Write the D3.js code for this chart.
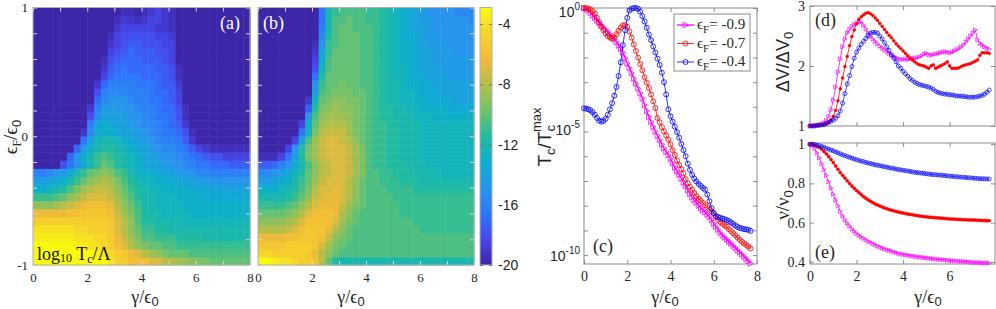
<!DOCTYPE html>
<html>
<head>
<meta charset="utf-8">
<script src="https://cdn.jsdelivr.net/npm/d3@7"></script>
<style>
  body { margin: 0; background: #fff; }
  svg { display: block; }
</style>
</head>
<body>
<script>
// ---------------- data ----------------
// heat maps: first row is eF = -1 (bottom), last row eF = +1 (top); 32 columns span gamma 0..8
const heatA = [
  [-3,-3,-3,-3,-3,-3,-3,-3,-3,-3,-3,-4,-5,-5,-6,-6,-6,-7,-7,-8,-8,-8.5,-9,-9,-9.5,-9.5,-10,-10,-10,-10,-10,-10],
  [-3,-3,-3,-3,-3,-3,-3,-3,-3,-3.5,-4,-4.5,-5,-5.5,-6.5,-7,-8,-8.5,-9,-9.5,-10,-10,-10,-10.5,-10.5,-10.5,-10.5,-10.5,-10.5,-10.5,-10.5,-10.5],
  [-3,-3,-3,-3,-3,-3,-3.5,-3.5,-4,-4,-4.5,-5,-6,-7,-8,-9,-9.5,-10,-10,-10.5,-10.5,-11,-11,-11,-11,-11,-11,-11,-11,-11,-11,-11],
  [-3.5,-3.5,-3.5,-3.5,-3.5,-3.5,-4,-4,-4,-4.5,-4.5,-5,-6.5,-7.5,-8.5,-9.5,-10.5,-10.5,-11,-11,-11,-11.5,-11.5,-11.5,-11.5,-12,-12,-12,-12,-12,-12,-12],
  [-4,-4,-4,-4,-4,-4,-4.5,-4.5,-5,-5,-5,-5.5,-7,-8,-9,-10,-11,-11,-11.5,-11.5,-12,-12,-12,-12,-12,-12,-12,-12,-12,-12,-12,-12],
  [-5,-5,-5,-5,-5,-5,-5,-5,-5,-5,-5,-5.5,-7,-8,-9,-10.5,-11.5,-11.5,-12,-12,-12,-12,-12.5,-12.5,-12.5,-12.5,-12.5,-12.5,-12.5,-12.5,-12.5,-12.5],
  [-6.5,-6.5,-6.5,-6.5,-6.5,-6,-6,-5.5,-5.5,-5.5,-5.5,-6,-7.5,-8.5,-9.5,-10.5,-11.5,-12,-12,-12.5,-12.5,-12.5,-12.5,-13,-13,-13,-13,-13,-13,-13,-13,-13],
  [-9,-9,-9,-8.5,-8,-7.5,-7,-6.5,-6,-6,-6,-6.5,-8,-9,-10,-11,-12,-12,-12.5,-12.5,-12.5,-12.5,-13,-13,-13,-13,-13,-13,-13,-13,-13,-13],
  [-11,-11,-11,-10.5,-10,-9,-8.5,-7.5,-7,-7,-7,-7.5,-8.5,-9.5,-10.5,-11.5,-12,-12,-12.5,-12.5,-12.5,-13,-13,-13,-13,-13.5,-13.5,-13.5,-13.5,-13.5,-13.5,-13.5],
  [-13,-13,-12.5,-12,-11.5,-10.5,-9.5,-8.5,-8,-7.5,-7.5,-8,-9,-10,-11,-11.5,-12,-12.5,-12.5,-13,-13,-13,-13,-13.5,-13.5,-13.5,-14,-14,-14,-14,-14,-14],
  [-14.5,-14.5,-14,-13.5,-13,-12,-11,-10,-9,-8.5,-8,-8.5,-9.5,-10.5,-11.5,-12,-12.5,-12.5,-13,-13,-13.5,-13.5,-14,-14,-14.5,-14.5,-15,-15,-15,-15,-15,-15],
  [-16,-16,-15.5,-15,-14.5,-13.5,-12,-11,-10,-9.5,-9,-9.5,-10.5,-11,-12,-12.5,-13,-13,-13.5,-14,-14,-14.5,-15,-15,-15.5,-15.5,-16,-16,-16,-16,-16,-16],
  [-20,-20,-20,-20,-18,-16.5,-15,-13.5,-12,-11,-10,-10.5,-11.5,-12,-12.5,-13,-13.5,-14,-14,-14.5,-15,-15,-15.5,-16,-16.5,-16.5,-17,-17,-17,-17.5,-17.5,-17.5],
  [-20,-20,-20,-20,-20,-17,-15,-13,-12,-11,-10.5,-11,-11.5,-12,-12.5,-13,-14,-14,-14.5,-15,-15,-15.5,-16,-16.5,-17,-17.5,-18,-18,-18.5,-18.5,-18.5,-18.5],
  [-20,-20,-20,-20,-20,-20,-17,-14.5,-13,-12,-11.5,-11.5,-12,-12.5,-13,-13.5,-14,-14.5,-15,-15.5,-15.5,-16,-16.5,-17.5,-18.5,-19,-19.5,-19.5,-19.5,-19.5,-19.5,-19.5],
  [-20,-20,-20,-20,-20,-20,-20,-16.5,-14,-12.5,-12,-12,-12.5,-13,-13.5,-14,-14.5,-15,-15.5,-16,-16,-16.5,-17.5,-19,-20,-20,-20,-20,-20,-20,-20,-20],
  [-20,-20,-20,-20,-20,-20,-20,-19,-15.5,-13.5,-13,-13,-13.5,-14,-14,-14.5,-15,-15.5,-16,-16.5,-16.5,-17,-18,-19.5,-20,-20,-20,-20,-20,-20,-20,-20],
  [-20,-20,-20,-20,-20,-20,-20,-20,-16,-14,-13,-13.5,-14,-14,-14.5,-15,-15.5,-15.5,-16,-16.5,-17,-17.5,-19,-20,-20,-20,-20,-20,-20,-20,-20,-20],
  [-20,-20,-20,-20,-20,-20,-20,-20,-18,-15.5,-14,-14,-14,-14.5,-15,-15,-15.5,-16,-16.5,-16.5,-17,-18,-19.5,-20,-20,-20,-20,-20,-20,-20,-20,-20],
  [-20,-20,-20,-20,-20,-20,-20,-20,-19,-16,-14.5,-14.5,-14.5,-15,-15,-15.5,-16,-16,-16.5,-17,-17,-18,-19.5,-20,-20,-20,-20,-20,-20,-20,-20,-20],
  [-20,-20,-20,-20,-20,-20,-20,-20,-20,-17,-15.5,-15,-15,-15,-15.5,-16,-16,-16.5,-16.5,-17,-17.5,-18.5,-20,-20,-20,-20,-20,-20,-20,-20,-20,-20],
  [-20,-20,-20,-20,-20,-20,-20,-20,-20,-18,-16,-15.5,-15.5,-15.5,-16,-16,-16,-16.5,-17,-17,-17.5,-18.5,-20,-20,-20,-20,-20,-20,-20,-20,-20,-20],
  [-20,-20,-20,-20,-20,-20,-20,-20,-20,-19,-17,-16,-16,-16,-16,-16.5,-16.5,-16.5,-17,-17.5,-17.5,-19,-20,-20,-20,-20,-20,-20,-20,-20,-20,-20],
  [-20,-20,-20,-20,-20,-20,-20,-20,-20,-20,-18.5,-17,-16.5,-16.5,-16.5,-16.5,-17,-17,-17,-17.5,-18,-19.5,-20,-20,-20,-20,-20,-20,-20,-20,-20,-20],
  [-20,-20,-20,-20,-20,-20,-20,-20,-20,-20,-19,-17.5,-17,-16.5,-17,-17,-17,-17,-17.5,-17.5,-18,-19.5,-20,-20,-20,-20,-20,-20,-20,-20,-20,-20],
  [-20,-20,-20,-20,-20,-20,-20,-20,-20,-20,-19.5,-18,-17.5,-17,-17,-17,-17.5,-17.5,-17.5,-18,-18.5,-20,-20,-20,-20,-20,-20,-20,-20,-20,-20,-20],
  [-20,-20,-20,-20,-20,-20,-20,-20,-20,-20,-20,-18.5,-18,-17.5,-17,-17.5,-17.5,-17.5,-18,-18,-18.5,-20,-20,-20,-20,-20,-20,-20,-20,-20,-20,-20],
  [-20,-20,-20,-20,-20,-20,-20,-20,-20,-20,-20,-19,-18.5,-18,-17.5,-17.5,-18,-18,-18,-18.5,-18.5,-20,-20,-20,-20,-20,-20,-20,-20,-20,-20,-20],
  [-20,-20,-20,-20,-20,-20,-20,-20,-20,-20,-20,-19.5,-18.5,-18,-18,-18,-18,-18,-18.5,-18.5,-19,-20,-20,-20,-20,-20,-20,-20,-20,-20,-20,-20],
  [-20,-20,-20,-20,-20,-20,-20,-20,-20,-20,-20,-20,-19,-18.5,-18.5,-18.5,-18.5,-18.5,-19,-19,-19.5,-20,-20,-20,-20,-20,-20,-20,-20,-20,-20,-20],
  [-20,-20,-20,-20,-20,-20,-20,-20,-20,-20,-20,-20,-19.5,-19,-19,-19.5,-19,-18.5,-18.5,-19,-19.5,-20,-20,-20,-20,-20,-20,-20,-20,-20,-20,-20],
  [-20,-20,-20,-20,-20,-20,-20,-20,-20,-20,-20,-20,-20,-19.5,-19.5,-20,-19.5,-19,-18.5,-19,-19.5,-20,-20,-20,-20,-20,-20,-20,-20,-20,-20,-20]
];

const heatB = [
  [-3,-3,-3.5,-4,-4,-4.5,-5,-5,-6,-8,-10,-11.5,-12,-12,-12,-12,-12,-12,-12,-12,-12,-12,-12,-12,-12,-12,-12,-12,-12,-12,-12,-12],
  [-4.5,-4.5,-5,-5,-5,-5,-5,-5.5,-6.5,-8,-9,-10,-10.5,-10.5,-10.5,-10.5,-10.5,-10.5,-10.5,-10.5,-10.5,-10.5,-10.5,-10.5,-10.5,-10.5,-10.5,-10.5,-10.5,-10.5,-10.5,-10.5],
  [-5.5,-5.5,-5.5,-5.5,-5,-5,-5,-5,-5.5,-7,-8.5,-9.5,-10,-10.5,-10.5,-10.5,-10.5,-10.5,-10.5,-10.5,-10.5,-10.5,-10.5,-10.5,-10.5,-10.5,-10.5,-10.5,-10.5,-10.5,-10.5,-10.5],
  [-6.5,-6.5,-6.5,-6.5,-6,-6,-5.5,-5.5,-5.5,-6,-7.5,-9,-9.5,-10,-10.5,-10.5,-10.5,-10.5,-10.5,-10.5,-10.5,-10.5,-10.5,-10.5,-10.5,-10.5,-10.5,-10.5,-10.5,-10.5,-10.5,-10.5],
  [-8,-8,-8,-8,-7.5,-7,-6,-5.5,-5.5,-5.5,-6.5,-8,-9,-10,-10.5,-10.5,-10.5,-10.5,-10.5,-10.5,-10.5,-10.5,-10.5,-10.5,-11,-11,-11,-11,-11,-11,-11,-11],
  [-9,-9,-9,-9,-8.5,-8,-7,-6,-6,-6,-6,-7,-8.5,-9.5,-10,-10.5,-10.5,-10.5,-10.5,-10.5,-10.5,-10.5,-10.5,-11,-11,-11,-11,-11,-11,-11,-11,-11],
  [-10,-10,-10,-10,-9.5,-9,-8,-7,-6,-6,-6,-6.5,-8,-9,-10,-10.5,-10.5,-10.5,-10.5,-10.5,-10.5,-11,-11,-11,-11,-11,-11,-11,-11,-11,-11,-11],
  [-11,-11,-11,-11,-10.5,-10,-9,-8,-7,-6.5,-6.5,-6.5,-7.5,-8.5,-9.5,-10,-10.5,-10.5,-10.5,-10.5,-10.5,-11,-11,-11,-11,-11,-11,-11,-11,-11,-11,-11],
  [-12,-12,-12,-12,-11.5,-11,-10,-9,-7.5,-7,-6.5,-6.5,-7,-8,-9,-10,-10.5,-10.5,-10.5,-10.5,-11,-11,-11,-11,-11,-11,-11,-11,-11,-11,-11,-11],
  [-13,-13,-13,-12.5,-12,-11.5,-10.5,-9.5,-8,-7,-7,-6.5,-7,-8,-9,-10,-10.5,-10.5,-10.5,-11,-11,-11,-11,-11.5,-11.5,-11.5,-11.5,-11.5,-11.5,-11.5,-11.5,-11.5],
  [-14.5,-14.5,-14,-13.5,-13,-12,-11,-10,-8.5,-7.5,-7,-7,-7,-8,-9,-10,-10.5,-10.5,-11,-11,-11,-11.5,-11.5,-11.5,-12,-12,-12,-12,-12,-12,-12,-12],
  [-15.5,-15.5,-15,-14.5,-13.5,-12.5,-11.5,-10,-9,-8,-7.5,-7,-7,-7.5,-8.5,-9.5,-10.5,-10.5,-11,-11,-11.5,-11.5,-11.5,-12,-12,-12,-12,-12.5,-12.5,-12.5,-12.5,-12.5],
  [-17.5,-17.5,-17,-16,-15,-13.5,-12,-10.5,-9,-8,-7.5,-7,-7,-7.5,-8.5,-9.5,-10.5,-11,-11,-11.5,-11.5,-11.5,-12,-12,-12,-12.5,-12.5,-12.5,-12.5,-12.5,-12.5,-12.5],
  [-19.5,-19.5,-19.5,-18.5,-16.5,-14,-11.5,-9.5,-8.5,-7.5,-7,-7,-7,-7.5,-8.5,-9.5,-10.5,-11,-11,-11.5,-11.5,-12,-12,-12,-12.5,-12.5,-12.5,-12.5,-12.5,-12.5,-12.5,-12.5],
  [-20,-20,-20,-20,-18.5,-15,-11.5,-9.5,-8.5,-7.5,-7,-7,-7,-7.5,-8.5,-9.5,-10.5,-11,-11,-11.5,-11.5,-12,-12,-12,-12.5,-12.5,-12.5,-12.5,-12.5,-12.5,-12.5,-12.5],
  [-20,-20,-20,-20,-20,-18.5,-14,-10.5,-8.5,-7.5,-7,-7,-7.5,-8,-9,-10,-10.5,-11,-11,-11.5,-11.5,-12,-12,-12,-12.5,-12.5,-12.5,-12.5,-12.5,-12.5,-12.5,-12.5],
  [-20,-20,-20,-20,-20,-20,-16.5,-12.5,-9.5,-8,-7.5,-7.5,-7.5,-8.5,-9.5,-10,-10.5,-11,-11,-11.5,-11.5,-12,-12,-12,-12.5,-12.5,-12.5,-12.5,-12.5,-12.5,-12.5,-12.5],
  [-20,-20,-20,-20,-20,-20,-18.5,-13,-10,-8.5,-8,-8,-8,-8.5,-9.5,-10,-10.5,-11,-11,-11.5,-11.5,-12,-12,-12,-12.5,-12.5,-12.5,-12.5,-12.5,-12.5,-12.5,-12.5],
  [-20,-20,-20,-20,-20,-20,-20,-15,-10.5,-9,-8.5,-8.5,-8.5,-9,-9.5,-10,-10.5,-11,-11.5,-11.5,-12,-12,-12,-12.5,-12.5,-12.5,-13,-13,-13,-13,-13,-13],
  [-20,-20,-20,-20,-20,-20,-20,-17.5,-11.5,-9.5,-9,-8.5,-9,-9,-9.5,-10,-10.5,-11,-11.5,-11.5,-12,-12,-12.5,-12.5,-13,-13,-13,-13,-13.5,-13.5,-13.5,-13.5],
  [-20,-20,-20,-20,-20,-20,-20,-19,-12.5,-10,-9.5,-9,-9,-9.5,-9.5,-10,-10.5,-11,-11.5,-12,-12,-12.5,-12.5,-13,-13,-13.5,-13.5,-13.5,-13.5,-14,-14,-14],
  [-20,-20,-20,-20,-20,-20,-20,-20,-14,-10.5,-10,-9.5,-9.5,-9.5,-10,-10,-10.5,-11,-11.5,-12,-12,-12.5,-12.5,-13,-13.5,-13.5,-13.5,-14,-14,-14,-14,-14],
  [-20,-20,-20,-20,-20,-20,-20,-20,-15,-11,-10,-10,-9.5,-10,-10,-10.5,-10.5,-11,-11.5,-12,-12,-12.5,-13,-13,-13.5,-13.5,-14,-14,-14,-14,-14,-14],
  [-20,-20,-20,-20,-20,-20,-20,-20,-16.5,-11.5,-10,-10,-10,-10,-10,-10.5,-10.5,-11,-11.5,-12,-12.5,-12.5,-13,-13.5,-13.5,-14,-14,-14,-14.5,-14.5,-14.5,-14.5],
  [-20,-20,-20,-20,-20,-20,-20,-20,-18,-12.5,-10.5,-10,-10,-10,-10,-10.5,-10.5,-11,-11.5,-12,-12.5,-12.5,-13,-13.5,-14,-14,-14,-14.5,-14.5,-14.5,-14.5,-14.5],
  [-20,-20,-20,-20,-20,-20,-20,-20,-18.5,-13,-10.5,-10,-10,-10,-10,-10.5,-10.5,-11,-11.5,-12,-12.5,-13,-13,-13.5,-14,-14,-14.5,-14.5,-14.5,-14.5,-14.5,-14.5],
  [-20,-20,-20,-20,-20,-20,-20,-20,-19,-14,-11,-10,-10,-10,-10,-10.5,-10.5,-11,-11.5,-12,-12.5,-13,-13,-13.5,-14,-14,-14.5,-14.5,-14.5,-15,-15,-15],
  [-20,-20,-20,-20,-20,-20,-20,-20,-19.5,-15,-11,-10.5,-10,-10,-10,-10.5,-10.5,-11,-11.5,-12,-12.5,-13,-13,-13.5,-14,-14.5,-14.5,-14.5,-15,-15,-15,-15],
  [-20,-20,-20,-20,-20,-20,-20,-20,-20,-15.5,-11.5,-10.5,-10,-10,-10,-10.5,-10.5,-11,-11.5,-12,-12.5,-13,-13.5,-13.5,-14,-14.5,-14.5,-15,-15,-15,-15,-15],
  [-20,-20,-20,-20,-20,-20,-20,-20,-20,-16,-12,-10.5,-10,-10,-10.5,-10.5,-10.5,-11,-11.5,-12,-12.5,-13,-13.5,-14,-14,-14.5,-15,-15,-15,-15,-15,-15],
  [-20,-20,-20,-20,-20,-20,-20,-20,-20,-16.5,-12,-10.5,-10.5,-10,-10.5,-10.5,-11,-11,-11.5,-12,-12.5,-13,-13.5,-14,-14.5,-14.5,-15,-15,-15,-15,-15,-15.5],
  [-20,-20,-20,-20,-20,-20,-20,-20,-20,-16.5,-12,-11,-10.5,-10.5,-10.5,-10.5,-11,-11,-11.5,-12,-12.5,-13,-13.5,-14,-14.5,-15,-15,-15,-15,-15.5,-15.5,-15.5]
];

const cbTicks = [-4, -8, -12, -16, -20];
const legendLabels = ["-0.9", "-0.7", "-0.4"];

// curves, one value per gamma step of 0.1 from 0 to 7.7
// (c) log10 of Tc/Tc^max
const tcMag = [0,-0.03,-0.1,-0.2,-0.3,-0.4,-0.5,-0.6,-0.69,-0.78,
  -0.87,-0.96,-1.05,-1.16,-1.27,-1.38,-1.52,-1.66,-1.8,-2.02,
  -2.24,-2.42,-2.63,-2.85,-3.05,-3.25,-3.45,-3.66,-3.92,-4.16,
  -4.4,-4.6,-4.8,-5.0,-5.17,-5.34,-5.52,-5.68,-5.82,-5.95,
  -6.1,-6.28,-6.46,-6.62,-6.75,-6.9,-7.06,-7.2,-7.37,-7.52,
  -7.66,-7.78,-7.88,-8.0,-8.1,-8.19,-8.27,-8.36,-8.45,-8.58,
  -8.72,-8.85,-8.97,-9.09,-9.2,-9.28,-9.36,-9.45,-9.53,-9.62,
  -9.71,-9.8,-9.88,-9.97,-10.06,-10.15,-10.24,-10.34];
const tcRed = [0,0,-0.02,-0.06,-0.13,-0.23,-0.4,-0.58,-0.75,-0.9,
  -1.03,-1.14,-1.2,-1.23,-1.18,-1.06,-0.92,-0.8,-0.7,-0.69,
  -0.76,-0.95,-1.2,-1.47,-1.74,-2.01,-2.27,-2.52,-2.8,-3.02,
  -3.24,-3.5,-3.78,-4.05,-4.45,-4.63,-4.82,-4.99,-5.16,-5.33,
  -5.52,-5.75,-5.95,-6.17,-6.35,-6.52,-6.69,-6.92,-7.1,-7.23,
  -7.36,-7.49,-7.62,-7.72,-7.8,-7.89,-7.98,-8.06,-8.15,-8.23,
  -8.32,-8.46,-8.57,-8.66,-8.74,-8.8,-8.85,-8.95,-9.03,-9.12,
  -9.2,-9.29,-9.38,-9.46,-9.53,-9.59,-9.65,-9.73];
const tcBlue = [-4.06,-4.07,-4.1,-4.14,-4.22,-4.32,-4.45,-4.56,-4.6,-4.57,
  -4.48,-4.32,-4.1,-3.85,-3.55,-3.2,-2.75,-2.2,-1.5,-0.9,
  -0.4,-0.1,-0.03,0,0,-0.03,-0.15,-0.33,-0.55,-0.8,
  -1.07,-1.3,-1.55,-1.8,-2.05,-2.3,-2.62,-3.0,-3.5,-4.1,
  -4.38,-4.6,-4.8,-5.02,-5.25,-5.5,-5.75,-6.0,-6.3,-6.55,
  -6.75,-6.9,-7.02,-7.12,-7.2,-7.28,-7.35,-7.55,-7.82,-8.1,
  -8.3,-8.42,-8.46,-8.49,-8.52,-8.55,-8.58,-8.62,-8.68,-8.74,
  -8.8,-8.86,-8.9,-8.92,-8.95,-8.96,-8.98,-9.02];

// (d) dV/dV0
const dvMag = [1.0,1.0,1.01,1.01,1.02,1.03,1.05,1.09,1.16,1.27,
  1.43,1.65,1.9,2.12,2.32,2.45,2.55,2.61,2.66,2.69,
  2.71,2.73,2.73,2.68,2.62,2.55,2.49,2.45,2.41,2.37,
  2.33,2.3,2.27,2.24,2.21,2.18,2.16,2.14,2.12,2.11,
  2.11,2.11,2.11,2.12,2.13,2.13,2.14,2.15,2.17,2.2,
  2.21,2.19,2.18,2.19,2.2,2.21,2.22,2.23,2.24,2.23,
  2.22,2.23,2.25,2.27,2.29,2.32,2.35,2.4,2.45,2.5,
  2.55,2.6,2.44,2.38,2.35,2.32,2.3,2.28];
const dvRed = [1.0,1.0,1.0,1.01,1.01,1.02,1.03,1.04,1.06,1.1,
  1.16,1.26,1.42,1.62,1.8,1.99,2.16,2.34,2.49,2.6,
  2.7,2.78,2.82,2.85,2.88,2.89,2.87,2.84,2.8,2.76,
  2.71,2.66,2.61,2.56,2.51,2.47,2.42,2.37,2.33,2.29,
  2.25,2.21,2.17,2.13,2.1,2.07,2.04,2.02,2.01,2.0,
  1.98,1.96,2.0,2.02,1.96,1.98,2.0,2.02,2.04,2.07,
  2.0,1.96,1.96,1.96,1.97,1.99,2.01,2.02,2.03,2.04,
  2.06,2.08,2.1,2.18,2.22,2.22,2.22,2.21];
const dvBlue = [1.0,1.0,1.0,1.01,1.01,1.02,1.02,1.04,1.06,1.08,
  1.1,1.13,1.17,1.25,1.38,1.54,1.7,1.84,1.99,2.13,
  2.23,2.3,2.36,2.41,2.46,2.51,2.55,2.56,2.56,2.55,
  2.5,2.45,2.39,2.32,2.26,2.19,2.13,2.07,2.0,1.96,
  1.91,1.87,1.83,1.79,1.76,1.73,1.71,1.69,1.68,1.67,
  1.66,1.65,1.63,1.61,1.58,1.56,1.55,1.54,1.53,1.53,
  1.52,1.52,1.51,1.5,1.5,1.5,1.49,1.49,1.48,1.48,
  1.48,1.48,1.49,1.5,1.51,1.53,1.56,1.6];

// (e) nu/nu0
const nuMag = [1.0,0.993,0.978,0.955,0.93,0.9,0.87,0.84,0.808,0.776,
  0.745,0.715,0.686,0.658,0.635,0.615,0.598,0.582,0.568,0.556,
  0.545,0.536,0.527,0.52,0.512,0.505,0.499,0.493,0.487,0.481,
  0.476,0.471,0.466,0.462,0.458,0.454,0.45,0.447,0.443,0.44,
  0.438,0.436,0.434,0.432,0.43,0.428,0.426,0.424,0.423,0.421,
  0.42,0.418,0.417,0.415,0.414,0.413,0.412,0.411,0.41,0.408,
  0.407,0.406,0.405,0.404,0.403,0.403,0.402,0.401,0.4,0.399,
  0.398,0.397,0.397,0.396,0.395,0.395,0.394,0.394];
const nuRed = [1.0,0.999,0.995,0.99,0.984,0.975,0.963,0.951,0.937,0.922,
  0.906,0.889,0.872,0.856,0.841,0.827,0.813,0.799,0.787,0.775,
  0.764,0.753,0.743,0.733,0.724,0.716,0.709,0.702,0.695,0.69,
  0.685,0.68,0.675,0.671,0.667,0.663,0.66,0.657,0.654,0.651,
  0.649,0.646,0.644,0.642,0.64,0.638,0.636,0.634,0.633,0.631,
  0.63,0.628,0.627,0.626,0.625,0.624,0.623,0.622,0.621,0.62,
  0.619,0.618,0.618,0.617,0.616,0.616,0.615,0.615,0.614,0.614,
  0.613,0.613,0.612,0.612,0.611,0.611,0.61,0.61];
const nuBlue = [1.0,1.0,0.998,0.995,0.992,0.988,0.984,0.979,0.975,0.97,
  0.966,0.961,0.956,0.951,0.946,0.942,0.937,0.933,0.929,0.925,
  0.921,0.917,0.914,0.911,0.907,0.904,0.901,0.898,0.895,0.893,
  0.89,0.888,0.885,0.883,0.88,0.878,0.876,0.873,0.871,0.869,
  0.867,0.865,0.863,0.861,0.859,0.857,0.855,0.854,0.852,0.851,
  0.849,0.848,0.846,0.845,0.844,0.843,0.842,0.841,0.84,0.839,
  0.837,0.836,0.835,0.834,0.833,0.832,0.831,0.83,0.829,0.828,
  0.827,0.826,0.825,0.824,0.824,0.823,0.823,0.822];

// ---------------- drawing ----------------
const serif = "'Liberation Serif', 'DejaVu Serif', serif";
const sans = "'Liberation Sans', Arial, sans-serif";
const textColor = "#262626";
const frameColor = "#8c8c8c";
const heatFrame = "#b0b0b0";
const magenta = "#ff00ff", red = "#ff0000", blue = "#0000ff";

const gamma = tcMag.map((_, i) => i / 10);

// parula colormap
const parula = ["rgb(62,38,168)", "rgb(71,71,235)", "rgb(46,118,251)", "rgb(39,150,235)",
  "rgb(13,174,206)", "rgb(33,187,160)", "rgb(113,195,108)", "rgb(179,191,74)",
  "rgb(242,186,57)", "rgb(246,212,43)", "rgb(249,251,14)"];
const cMin = -20, cMax = -2.9;
const color = d3.scaleLinear()
  .domain(parula.map((_, i) => cMin + (cMax - cMin) * i / (parula.length - 1)))
  .range(parula)
  .clamp(true);

const svg = d3.select("body").append("svg")
  .attr("width", 996).attr("height", 309);

// scales
const xA = d3.scaleLinear([0, 8], [33, 250]);
const xB = d3.scaleLinear([0, 8], [258, 474]);
const yEps = d3.scaleLinear([-1, 1], [265, 7.5]);
const yCb = d3.scaleLinear([cMin, cMax], [265, 7.5]);
const xC = d3.scaleLinear([0, 8], [584, 757]);
const yC = d3.scaleLog([Math.pow(10, -10.36), 1], [264, 8]);
const xD = d3.scaleLinear([0, 7.95], [810, 995]);
const yD = d3.scaleLinear([1, 3], [126, 6]);
const yNu = d3.scaleLinear([0.389, 1.006], [264, 143]);

function drawHeat(grid, x) {
  const nr = grid.length;
  const cells = [];
  grid.forEach((row, i) => row.forEach((v, j) => cells.push({ i, j, v, nc: row.length })));
  svg.append("g").selectAll("rect").data(cells).join("rect")
    .attr("x", d => x(8 * d.j / d.nc))
    .attr("y", d => yEps(-1 + 2 * (d.i + 1) / nr))
    .attr("width", d => x(8 * (d.j + 1) / d.nc) - x(8 * d.j / d.nc) + 0.5)
    .attr("height", d => yEps(-1 + 2 * d.i / nr) - yEps(-1 + 2 * (d.i + 1) / nr) + 0.5)
    .attr("fill", d => color(d.v));
}

function addAxes(x, y, o) {
  const [xl, xr] = x.range(), [yb, yt] = y.range();
  const tc = o.tickColor || frameColor;
  const none = () => "";
  const g = svg.append("g");
  const parts = [
    [d3.axisBottom(x).tickValues(o.xTicks).tickFormat(o.xFmt || none).tickPadding(o.xPad || 8), `translate(0,${yb})`],
    [d3.axisTop(x).tickValues(o.xTicks).tickFormat(none), `translate(0,${yt})`],
    [d3.axisLeft(y).tickValues(o.yTicks).tickFormat(o.yFmt || none).tickPadding(o.yPad || 5), `translate(${xl},0)`],
    [d3.axisRight(y).tickValues(o.yTicks).tickFormat(none), `translate(${xr},0)`]
  ];
  parts.forEach(([ax, tr]) => {
    const a = g.append("g").attr("transform", tr).call(ax.tickSize(-4));
    a.select(".domain").remove();
    a.selectAll(".tick line").attr("stroke", tc);
    a.selectAll(".tick text").attr("fill", textColor)
      .attr("font-family", o.font || serif).attr("font-size", o.fontSize || 14);
  });
  g.append("rect").attr("x", xl).attr("y", yt)
    .attr("width", xr - xl).attr("height", yb - yt)
    .attr("fill", "none").attr("stroke", o.frame || frameColor);
}

function rich(x, y, parts, o) {
  const t = svg.append("text").attr("x", x).attr("y", y)
    .attr("font-family", o.font || serif).attr("font-size", o.size || 17)
    .attr("fill", o.fill || textColor).attr("text-anchor", o.anchor || "start");
  if (o.rotate) t.attr("transform", `rotate(${o.rotate},${x},${y})`);
  parts.forEach(p => {
    const s = t.append("tspan").text(p.t);
    if (p.size) s.attr("font-size", p.size);
    if (p.dy) s.attr("dy", p.dy);
    if (p.dx) s.attr("dx", p.dx);
    if (p.font) s.attr("font-family", p.font);
  });
  return t;
}

const triPath = r => `M${-r * 0.85},${-r}L${r},0L${-r * 0.85},${r}Z`;

function drawSeries(x, y, vals, st) {
  const pts = vals.map((v, i) => [x(gamma[i]), y(st.tf ? st.tf(v) : v)]);
  svg.append("path").attr("d", d3.line()(pts))
    .attr("fill", "none").attr("stroke", st.color).attr("stroke-width", st.lw);
  const g = svg.append("g");
  if (st.shape === "tri") {
    g.selectAll("path").data(pts).join("path")
      .attr("d", triPath(st.r))
      .attr("transform", d => `translate(${d[0]},${d[1]})`)
      .attr("fill", "none").attr("stroke", st.color).attr("stroke-width", st.mw);
  } else {
    g.selectAll("circle").data(pts).join("circle")
      .attr("cx", d => d[0]).attr("cy", d => d[1]).attr("r", st.r)
      .attr("fill", st.fill ? st.color : "none")
      .attr("stroke", st.color).attr("stroke-width", st.mw);
  }
}

// ---- (a) and (b) heat maps ----
drawHeat(heatA, xA);
drawHeat(heatB, xB);

const epsTicks = d3.range(-5, 6).map(i => i / 5);
addAxes(xA, yEps, {
  xTicks: d3.range(0, 9), yTicks: epsTicks, xPad: 8, yPad: 5, fontSize: 13,
  xFmt: d => d % 2 === 0 ? String(d) : "",
  yFmt: d => (d === -1 || d === 0 || d === 1) ? String(d) : "",
  tickColor: "#d8d8d8", frame: heatFrame
});
addAxes(xB, yEps, {
  xTicks: d3.range(0, 9), yTicks: epsTicks, xPad: 8, fontSize: 13,
  xFmt: d => d % 2 === 0 ? String(d) : "",
  tickColor: "#d8d8d8", frame: heatFrame
});

// colorbar
const grad = svg.append("defs").append("linearGradient").attr("id", "parulaGrad")
  .attr("x1", 0).attr("y1", 1).attr("x2", 0).attr("y2", 0);
parula.forEach((c, i) => grad.append("stop").attr("offset", i / (parula.length - 1)).attr("stop-color", c));
svg.append("rect").attr("x", 480).attr("y", yCb.range()[1])
  .attr("width", 12).attr("height", yCb.range()[0] - yCb.range()[1])
  .attr("fill", "url(#parulaGrad)").attr("stroke", heatFrame);
const cbR = svg.append("g").attr("transform", "translate(492,0)")
  .call(d3.axisRight(yCb).tickValues(cbTicks).tickSize(-3).tickPadding(6).tickFormat(d => String(d)));
const cbL = svg.append("g").attr("transform", "translate(480,0)")
  .call(d3.axisLeft(yCb).tickValues(cbTicks).tickSize(-3).tickFormat(() => ""));
[cbR, cbL].forEach(a => {
  a.select(".domain").remove();
  a.selectAll(".tick line").attr("stroke", "#777");
  a.selectAll(".tick text").attr("fill", textColor).attr("font-family", sans).attr("font-size", 14);
});

// labels for (a), (b) and the shared gamma labels
rich(17, 137, [{ t: "ϵ" }, { t: "F", size: 12, dy: 4 }, { t: "/ϵ", dy: -4 }, { t: "0", size: 13, dy: 4, font: sans }],
  { size: 19, anchor: "middle", rotate: -90 });
[145, 351, 665, 928].forEach(cx => {
  rich(cx, 303, [{ t: "γ/ϵ" }, { t: "0", size: 13, dy: 3, font: sans }], { size: 18, anchor: "middle" });
});
rich(220, 29, [{ t: "(a)" }], { size: 18, fill: "#ffffff" });
rich(263, 29, [{ t: "(b)" }], { size: 18, fill: "#ffffff" });
rich(37, 260, [{ t: "log" }, { t: "10", size: 12, dy: 2 }, { t: " T", dy: -2 }, { t: "c", size: 12, dy: 3 }, { t: "/Λ", dy: -3 }],
  { size: 18, fill: "#111" });

// ---- (c) Tc / Tc^max, log scale ----
addAxes(xC, yC, {
  xTicks: [0, 2, 4, 6, 8], yTicks: d3.range(-10, 1).map(e => Math.pow(10, e)),
  xPad: 7, xFmt: d => String(d)
});
[[0, 17], [-5, 135], [-10, 261]].forEach(([e, by]) => {
  rich(580, by, [{ t: "10" }, { t: String(e), size: 10, dy: -7 }],
    { font: sans, size: 14, anchor: "end" });
});
rich(551, 137, [{ t: "T" }, { t: "c", size: 13, dy: 4 }, { t: "/T", dy: -4 }, { t: "c", size: 13, dy: 4 },
  { t: "max", size: 13, dx: -7, dy: -14 }], { font: sans, size: 19, anchor: "middle", rotate: -90 });

const tcStyles = [
  { vals: tcMag, color: magenta, shape: "tri", r: 2.8, lw: 1.3, mw: 0.8 },
  { vals: tcRed, color: red, shape: "circle", r: 2.5, lw: 0.8, mw: 0.8 },
  { vals: tcBlue, color: blue, shape: "circle", r: 2.5, lw: 0.8, mw: 0.8 }
];
tcStyles.forEach(s => drawSeries(xC, yC, s.vals, Object.assign({ tf: v => Math.pow(10, v) }, s)));
rich(593, 252, [{ t: "(c)" }], { size: 18 });

// legend
svg.append("rect").attr("x", 674).attr("y", 14).attr("width", 76).attr("height", 57)
  .attr("fill", "#fff").attr("stroke", "#6e6e6e").attr("stroke-width", 0.8);
tcStyles.forEach((s, k) => {
  const ly = 25 + k * 18.5;
  svg.append("line").attr("x1", 677).attr("x2", 694).attr("y1", ly).attr("y2", ly)
    .attr("stroke", s.color).attr("stroke-width", s.lw);
  if (s.shape === "tri") {
    svg.append("path").attr("d", triPath(s.r)).attr("transform", `translate(685.5,${ly})`)
      .attr("fill", "none").attr("stroke", s.color).attr("stroke-width", s.mw);
  } else {
    svg.append("circle").attr("cx", 685.5).attr("cy", ly).attr("r", s.r)
      .attr("fill", "none").attr("stroke", s.color).attr("stroke-width", s.mw);
  }
  rich(697, ly + 4, [{ t: "ϵ" }, { t: "F", size: 11, dy: 4 }, { t: "= " + legendLabels[k], dy: -4 }], { size: 15 });
});

// ---- (d) dV/dV0 ----
addAxes(xD, yD, { xTicks: [2, 4, 6], yTicks: [1, 2, 3], yFmt: d => String(d), yPad: 5 });
[
  { vals: dvMag, color: magenta, shape: "tri", r: 2.1, lw: 0.8, mw: 0.7 },
  { vals: dvRed, color: red, shape: "circle", r: 1.4, lw: 0.8, mw: 0.6, fill: true },
  { vals: dvBlue, color: blue, shape: "circle", r: 2.0, lw: 0.7, mw: 0.7 }
].forEach(s => drawSeries(xD, yD, s.vals, s));
rich(789, 62, [{ t: "ΔV/ΔV" }, { t: "0", size: 13, dy: 4 }], { font: sans, size: 18, anchor: "middle", rotate: -90 });
rich(815, 26, [{ t: "(d)" }], { size: 18 });

// ---- (e) nu/nu0 ----
addAxes(xD, yNu, {
  xTicks: [0, 2, 4, 6], yTicks: [0.4, 0.6, 0.8, 1], xPad: 7, yPad: 5,
  xFmt: d => String(d), yFmt: d => d === 1 ? "1" : d.toFixed(1)
});
[
  { vals: nuMag, color: magenta, shape: "tri", r: 2.1, lw: 0.8, mw: 0.7 },
  { vals: nuRed, color: red, shape: "circle", r: 1.5, lw: 0.8, mw: 0.6, fill: true },
  { vals: nuBlue, color: blue, shape: "circle", r: 2.0, lw: 0.7, mw: 0.7 }
].forEach(s => drawSeries(xD, yNu, s.vals, s));
rich(789, 205, [{ t: "ν/ν" }, { t: "0", size: 13, dy: 4, font: sans }], { size: 19, anchor: "middle", rotate: -90 });
rich(815, 258, [{ t: "(e)" }], { size: 18 });
</script>
</body>
</html>
